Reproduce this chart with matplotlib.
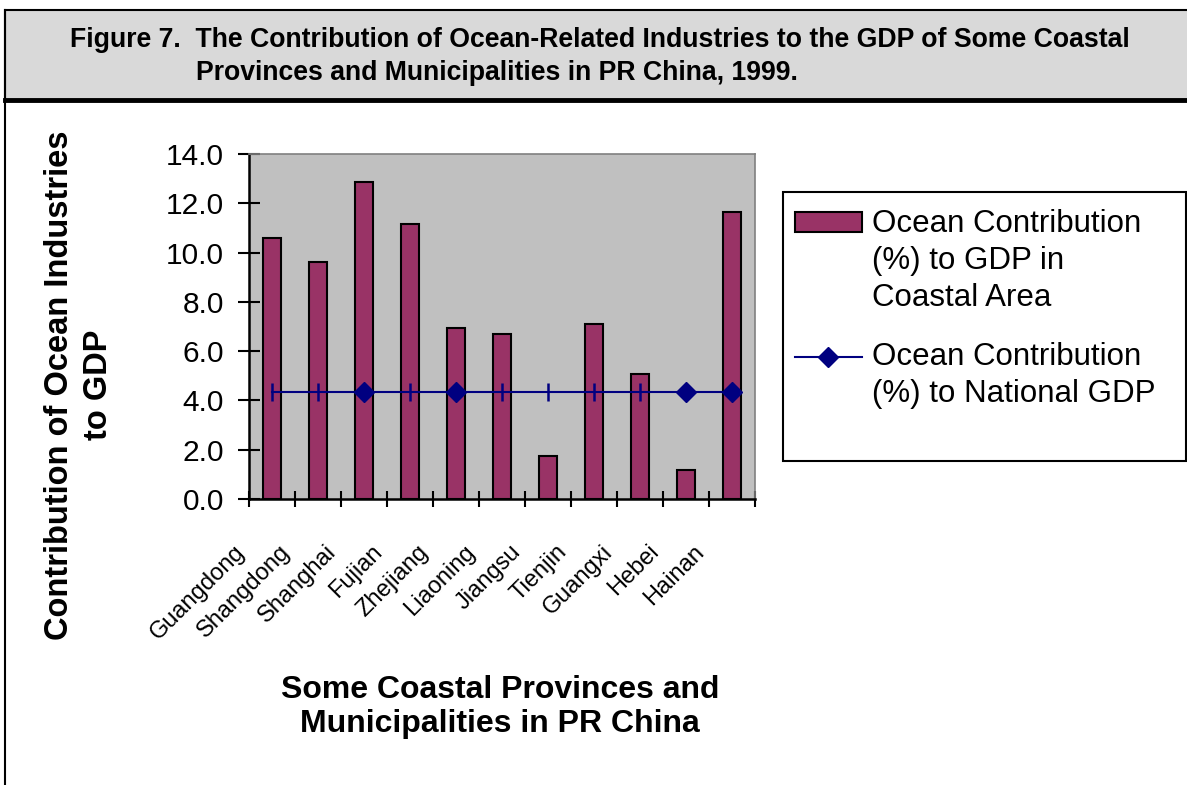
import matplotlib
matplotlib.use("Agg")
import matplotlib.pyplot as plt
from matplotlib.patches import Rectangle
from matplotlib.lines import Line2D
from matplotlib.transforms import ScaledTranslation
import numpy as np

provinces = ['Guangdong', 'Shangdong', 'Shanghai', 'Fujian', 'Zhejiang', 'Liaoning',
             'Jiangsu', 'Tienjin', 'Guangxi', 'Hebei', 'Hainan']
coastal_gdp_pct = [10.58, 9.62, 12.86, 11.16, 6.94, 6.70, 1.75, 7.10, 5.07, 1.18, 11.64]
national_gdp_pct = [4.35] * len(provinces)
y_ticks = [0.0, 2.0, 4.0, 6.0, 8.0, 10.0, 12.0, 14.0]

title_line1 = 'Figure 7.  The Contribution of Ocean-Related Industries to the GDP of Some Coastal'
title_line2 = 'Provinces and Municipalities in PR China, 1999.'
bar_label = 'Ocean Contribution\n(%) to GDP in\nCoastal Area'
line_label = 'Ocean Contribution\n(%) to National GDP'

BAR_COLOR = '#993366'
LINE_COLOR = '#000080'

plt.rcParams['font.family'] = ['Liberation Sans', 'DejaVu Sans']

W, H = 1187, 785
fig = plt.figure(figsize=(W / 100, H / 100), dpi=100)
tf = fig.transFigure

def fx(px):
    return px / W

def fy(py):
    return 1 - py / H

# --- title box + frame ---
fig.patches.append(Rectangle((fx(5), fy(100)), 1.0, 90 / H, transform=tf,
                             facecolor='#d9d9d9', edgecolor='black', lw=1.5))
fig.lines.append(Line2D([fx(5), 1.0], [fy(100), fy(100)], transform=tf, color='black', lw=3.5))
fig.lines.append(Line2D([fx(5), fx(5)], [0, fy(10)], transform=tf, color='black', lw=1.5))
fig.text(fx(70), fy(47), title_line1, ha='left', va='baseline', fontsize=19.2, fontweight='bold')
fig.text(fx(196), fy(80), title_line2, ha='left', va='baseline', fontsize=19.2, fontweight='bold')

# --- plot area ---
ax = fig.add_axes([fx(249), fy(499), (755 - 249) / W, (499 - 154) / H])
ax.set_facecolor('#c0c0c0')
x = np.arange(len(provinces))
ax.bar(x, coastal_gdp_pct, width=0.41, color=BAR_COLOR, edgecolor='black', lw=1.5, zorder=2)
# line with diamond markers (some points render as short vertical ticks)
diamond_idx = [2, 4, 9, 10]
tick_idx = [i for i in range(len(provinces)) if i not in diamond_idx]
ax.plot(x, national_gdp_pct, color=LINE_COLOR, lw=1.5, marker='D', markersize=10,
        markevery=diamond_idx, zorder=3)
ax.plot(x, national_gdp_pct, color=LINE_COLOR, lw=0, marker='|', markersize=13,
        mew=1.8, markevery=tick_idx, zorder=3)

ax.set_xlim(-0.5, len(provinces) - 0.5)
ax.set_ylim(0, 14)
ax.set_yticks(y_ticks)
ax.set_yticklabels([f'{v:.1f}' for v in y_ticks], fontsize=21.5)
ax.tick_params(axis='y', direction='inout', length=16, width=1.5, pad=10)

ax.set_xticks(x)
ax.set_xticklabels(provinces, rotation=45, ha='right', va='top', fontsize=17)
ax.tick_params(axis='x', which='major', length=0, pad=30)
ax.set_xticks(np.arange(-0.5, len(provinces), 1.0), minor=True)
ax.tick_params(axis='x', which='minor', direction='inout', length=11, width=1.5)
for lbl in ax.get_xticklabels():
    lbl.set_transform(lbl.get_transform() + ScaledTranslation(-0.23, 0, fig.dpi_scale_trans))

for side in ['left', 'bottom']:
    ax.spines[side].set_color('black')
    ax.spines[side].set_linewidth(1.8)
for side in ['top', 'right']:
    ax.spines[side].set_color('#808080')
    ax.spines[side].set_linewidth(1.2)

fig.text(fx(79), fy(385), 'Contribution of Ocean Industries\nto GDP', rotation=90,
         ha='center', va='center', fontsize=23.5, fontweight='bold', linespacing=1.35)
fig.text(fx(500), fy(707), 'Some Coastal Provinces and\nMunicipalities in PR China',
         ha='center', va='center', fontsize=23, fontweight='bold', linespacing=1.2)

# --- legend (drawn by hand so the key sits beside the first line of each label) ---
fig.patches.append(Rectangle((fx(783), fy(461)), (1186 - 783) / W, (461 - 192) / H,
                             transform=tf, facecolor='white', edgecolor='black', lw=1.5))
fig.patches.append(Rectangle((fx(795), fy(232)), (862 - 795) / W, 20 / H, transform=tf,
                             facecolor=BAR_COLOR, edgecolor='black', lw=1.5))
fig.lines.append(Line2D([fx(795), fx(828), fx(862)], [fy(357)] * 3, transform=tf,
                        color=LINE_COLOR, lw=1.5, marker='D', markersize=10, markevery=[1]))
fig.text(fx(872), fy(209), bar_label, ha='left', va='top', fontsize=22.5, linespacing=1.3)
fig.text(fx(872), fy(342), line_label, ha='left', va='top', fontsize=22.5, linespacing=1.3)

fig.savefig('out.png', dpi=100)
